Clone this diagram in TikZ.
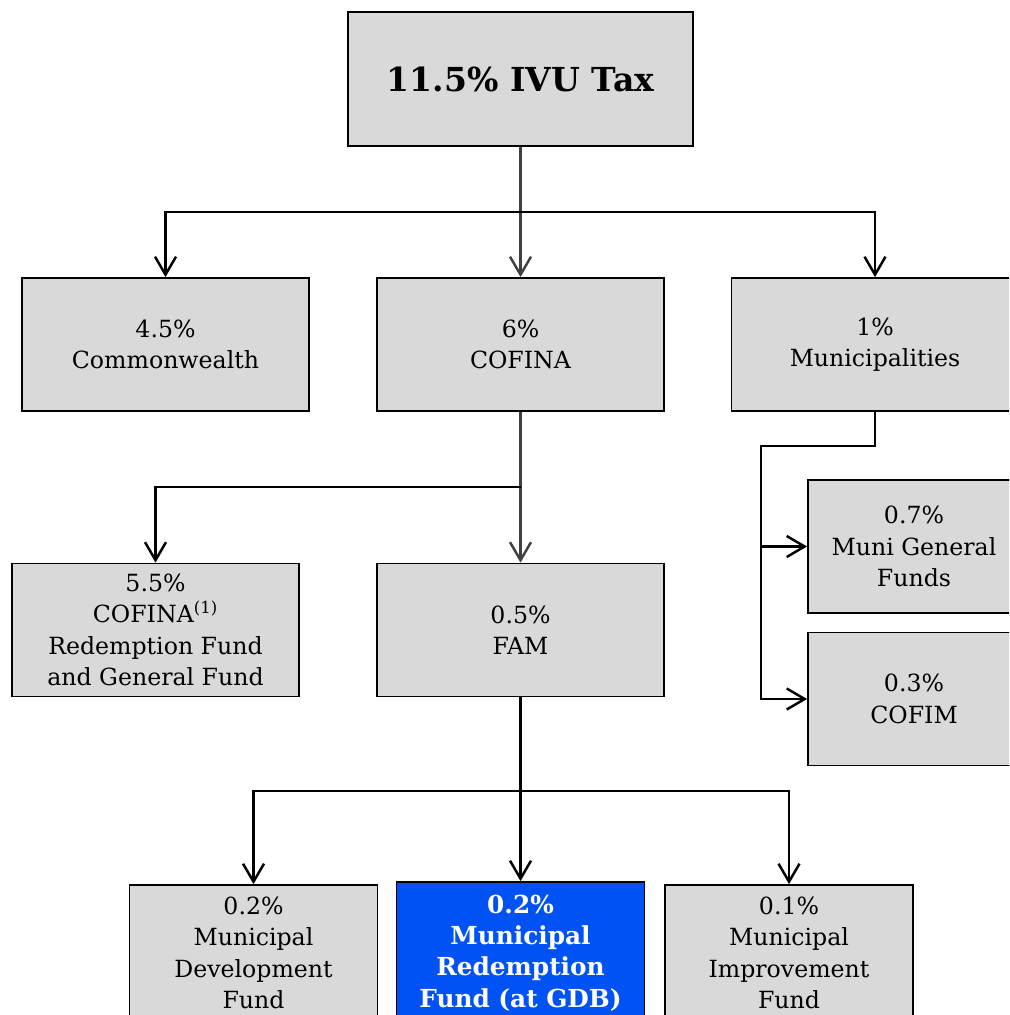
\documentclass[tikz,border=0pt]{standalone}
\usepackage{fontspec}
\setmainfont{DejaVu Serif}
\usepackage{xcolor}
\usepackage{tikz}
\usetikzlibrary{arrows.meta}

\definecolor{boxgray}{HTML}{D9D9D9}
\definecolor{fundblue}{HTML}{0052F5}
\definecolor{linegray}{HTML}{404040}

\tikzset{
    fundbox/.style={draw, rectangle, fill=boxgray, line width=1pt, align=center,
        inner sep=0pt, font=\fontsize{13.45}{17.8}\selectfont},
    wide/.style={minimum width=5.74cm, minimum height=2.66cm},
    small/.style={minimum width=4.96cm, minimum height=2.72cm},
    flow/.style={line width=1.4pt, -{Straight Barb[length=3.6mm,width=4.2mm]}},
    bare/.style={line width=1.4pt}
}

\begin{document}
\begin{tikzpicture}
        \clip (0,0) rectangle (20.18,-20.3);

        \node[fundbox, minimum width=6.9cm, minimum height=2.68cm,
            font=\fontsize{18.8}{22}\selectfont\bfseries] (ivu) at (10.41, -1.58) {11.5\% IVU Tax};

        \node[fundbox, wide] (commonwealth) at (3.31, -6.89) {4.5\%\\Commonwealth};
        \node[fundbox, wide] (cofina) at (10.41, -6.89) {6\%\\COFINA};
        \node[fundbox, wide] (munis) at (17.5, -6.89) {1\%\\Municipalities};

        \node[fundbox, wide] (cofinafund) at (3.11, -12.6) {5.5\%\\COFINA\textsuperscript{(1)}\\Redemption Fund\\and General Fund};
        \node[fundbox, wide] (fam) at (10.41, -12.6) {0.5\%\\FAM};

        \node[fundbox, minimum width=4.24cm, minimum height=2.66cm] (munigen) at (18.28, -10.93) {0.7\%\\Muni General\\Funds};
        \node[fundbox, minimum width=4.24cm, minimum height=2.66cm] (cofim) at (18.28, -13.98) {0.3\%\\COFIM};

        \node[fundbox, small] (devfund) at (5.07, -19.06) {0.2\%\\Municipal\\Development\\Fund};
        \node[fundbox, small, minimum height=2.84cm, fill=fundblue, text=white,
            font=\fontsize{14.1}{17.8}\selectfont\bfseries] (redemption) at (10.41, -19.06) {0.2\%\\Municipal\\Redemption\\Fund (at GDB)};
        \node[fundbox, small] (improve) at (15.78, -19.06) {0.1\%\\Municipal\\Improvement\\Fund};

        % split points
        \coordinate (split1) at (10.41, -4.24);
        \coordinate (split2) at (10.41, -9.74);
        \coordinate (split3) at (10.41, -15.82);
        \coordinate (mjoin) at (15.22, -8.92);

        % first level
        \draw[flow, linegray] (ivu) -- (cofina);
        \draw[flow] (split1) -| (commonwealth.north);
        \draw[flow] (split1) -| (munis.north);

        % COFINA
        \draw[flow, linegray] (cofina) -- (fam);
        \draw[flow] (split2) -| (cofinafund.north);

        % municipalities
        \draw[flow] (munis.south) |- (mjoin) |- (cofim.west);
        \draw[flow] (mjoin) |- (munigen.west);

        % FAM
        \draw[bare] (fam) -- (split3);
        \draw[flow] (split3) -| (devfund.north);
        \draw[flow] (split3) -- (redemption);
        \draw[flow] (split3) -| (improve.north);
    \end{tikzpicture}
\end{document}
